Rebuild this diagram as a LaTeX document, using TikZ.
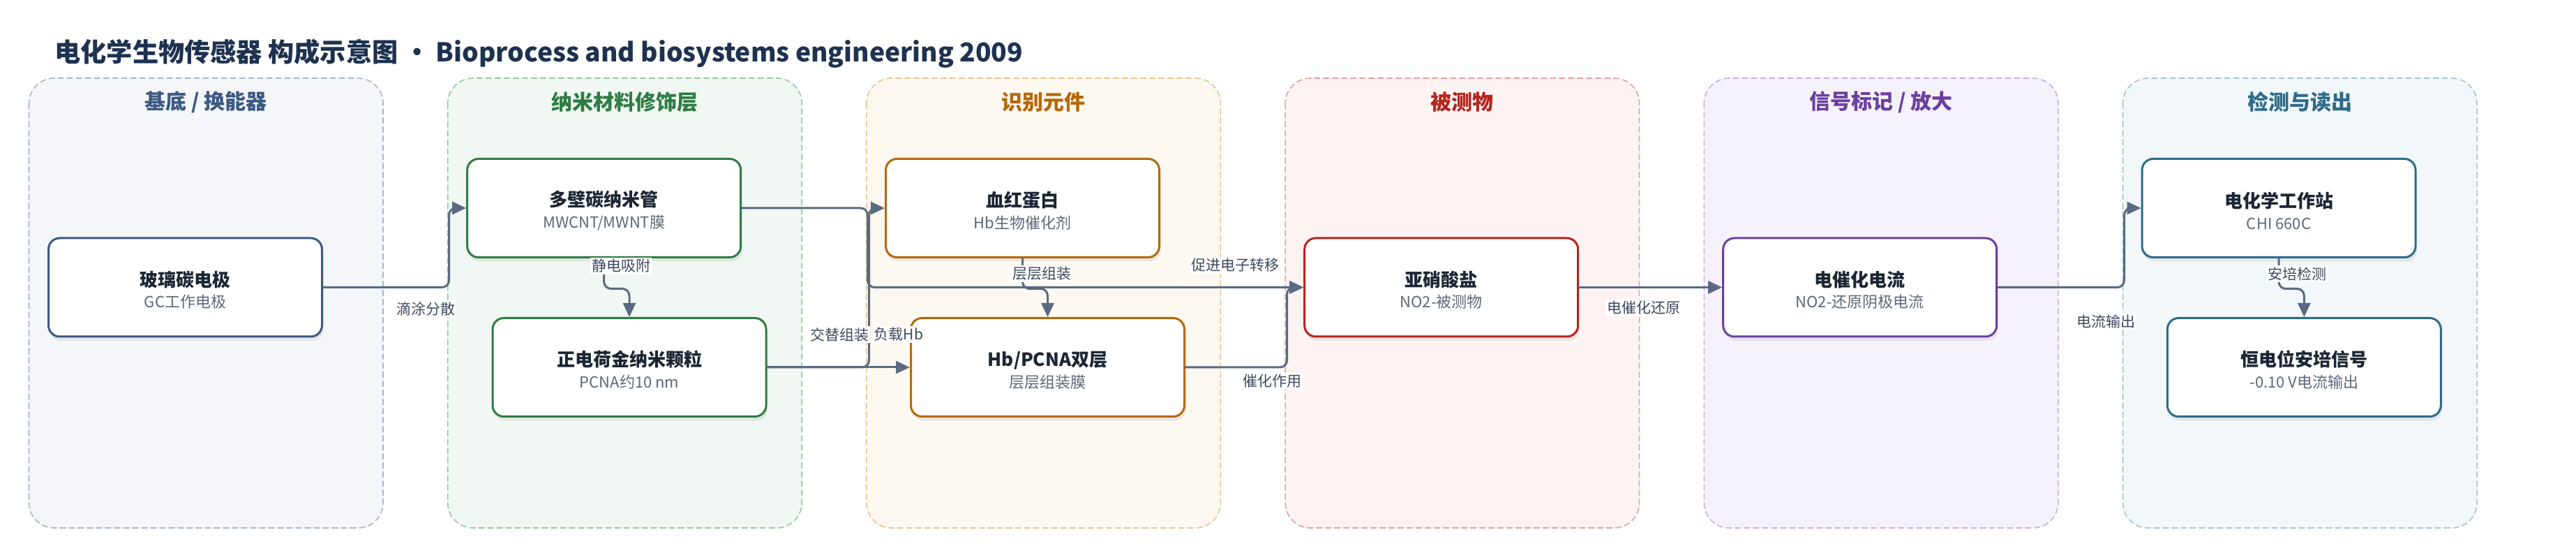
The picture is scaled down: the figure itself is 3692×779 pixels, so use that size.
\documentclass[tikz,border=0pt]{standalone}
\usepackage{fontspec}
\setmainfont{Noto Sans CJK SC}
\usetikzlibrary{arrows.meta,shadows}
\definecolor{titlec}{HTML}{1E3250}
\definecolor{edgec}{HTML}{5A6A82}
\definecolor{lblc}{HTML}{3D4A5C}
\definecolor{txtc}{HTML}{1C2633}
\definecolor{subc}{HTML}{5C6878}
% lane colours: line (L) / fill (F) / head
\definecolor{baseL}{HTML}{A9B5C9}\definecolor{baseF}{HTML}{F4F6FA}\definecolor{base}{HTML}{3C5A82}
\definecolor{nanoL}{HTML}{96C7A0}\definecolor{nanoF}{HTML}{F1F7F2}\definecolor{nano}{HTML}{2E7D44}
\definecolor{recogL}{HTML}{E5C48F}\definecolor{recogF}{HTML}{FDF8F0}\definecolor{recog}{HTML}{B5690A}
\definecolor{anaL}{HTML}{E3A0A0}\definecolor{anaF}{HTML}{FDF3F2}\definecolor{ana}{HTML}{B3261E}
\definecolor{sigL}{HTML}{C7ADE3}\definecolor{sigF}{HTML}{F6F2FB}\definecolor{sig}{HTML}{6B3FA0}
\definecolor{detL}{HTML}{A3C4D2}\definecolor{detF}{HTML}{F2F7F9}\definecolor{det}{HTML}{2E6B8A}
\newcommand{\blktitle}[1]{{\fontsize{13}{15}\selectfont\bfseries\color{txtc}\rule{0pt}{15pt}#1}}
\newcommand{\blksub}[1]{{\fontsize{11}{13}\selectfont\color{subc}#1}}
\begin{document}
\begin{tikzpicture}[x=0.5pt, y=-0.5pt, line join=round, line cap=round,
	lane/.style={dashed, dash pattern=on 4pt off 2.5pt, line width=0.8pt, rounded corners=18pt},
	lanehead/.style={font=\fontsize{15}{18}\selectfont\bfseries},
	blk/.style={draw, fill=white, rounded corners=8pt, line width=1.5pt, minimum width=196pt, minimum height=70.5pt, align=center,
		drop shadow={opacity=0.14, shadow xshift=1pt, shadow yshift=-3pt}},
	edge/.style={draw=edgec, line width=1.5pt, rounded corners=5pt, -{Triangle[length=10pt,width=9pt]}},
	lbl/.style={fill=white, inner sep=1pt, text=lblc, font=\fontsize{10.5}{12}\selectfont}]
	\def\lanew{507.5}\def\lanetop{112}\def\laneh{644}
	\fill[white] (0,0) rectangle (3692,779);
	\useasboundingbox (0,0) rectangle (3692,779);
	\node[anchor=west, inner sep=0pt, text=titlec, font=\fontsize{18.6}{22}\selectfont\bfseries] (title) at (78,77) {电化学生物传感器 构成示意图 • Bioprocess and biosystems engineering 2009};
	% lanes
	\foreach \i/\c/\t in {0/base/{基底 / 换能器}, 1/nano/{纳米材料修饰层}, 2/recog/{识别元件}, 3/ana/{被测物}, 4/sig/{信号标记 / 放大}, 5/det/{检测与读出}}{
		\draw[lane, draw=\c L, fill=\c F] (41.5+600.2*\i,\lanetop) rectangle ++(\lanew,\laneh);
		\node[lanehead, text=\c] (h\i) at (41.5+600.2*\i+\lanew/2,146.5) {\t};
	}
	% blocks
	\node[blk, draw=base] (gce) at (265.5,411.5) {\blktitle{玻璃碳电极}\\[3.3pt]\blksub{GC工作电极}};
	\node[blk, draw=nano] (mwcnt) at (865.7,298) {\blktitle{多壁碳纳米管}\\[3.3pt]\blksub{MWCNT/MWNT膜}};
	\node[blk, draw=nano] (pcna) at (902,526) {\blktitle{正电荷金纳米颗粒}\\[3.3pt]\blksub{PCNA约10 nm}};
	\node[blk, draw=recog] (hb) at (1465.5,298) {\blktitle{血红蛋白}\\[3.3pt]\blksub{Hb生物催化剂}};
	\node[blk, draw=recog] (bilayer) at (1501.5,526) {\blktitle{Hb/PCNA双层}\\[3.3pt]\blksub{层层组装膜}};
	\node[blk, draw=ana] (nitrite) at (2065.7,411.5) {\blktitle{亚硝酸盐}\\[3.3pt]\blksub{NO2-被测物}};
	\node[blk, draw=sig] (cur) at (2665.7,411.5) {\blktitle{电催化电流}\\[3.3pt]\blksub{NO2-还原阴极电流}};
	\node[blk, draw=det] (chi) at (3266,298) {\blktitle{电化学工作站}\\[3.3pt]\blksub{CHI 660C}};
	\node[blk, draw=det] (amp) at (3302.3,526) {\blktitle{恒电位安培信号}\\[3.3pt]\blksub{-0.10 V电流输出}};
	% connectors
	\draw[edge] (gce.east) -- ++(180.5,0) |- (mwcnt.west);
	\draw[edge] (mwcnt.south) -- ++(0,43.5) -| (pcna.north);
	\draw[edge] (mwcnt.east) -- ++(180.3,0) |- (nitrite.west);
	\draw[edge] (pcna.east) -- ++(146,0) |- (hb.west);
	\draw[edge] (pcna.east) -- (bilayer.west);
	\draw[edge] (hb.south) -- ++(0,43.5) -| (bilayer.north);
	\draw[edge] (bilayer.east) -- ++(145.5,0) |- (nitrite.west);
	\draw[edge] (nitrite.east) -- (cur.west);
	\draw[edge] (cur.east) -- ++(181.3,0) |- (chi.west);
	\draw[edge] (chi.south) -- ++(0,43.5) -| (amp.north);
	% labels
	\node[lbl] (l1) at (610,442) {滴涂分散};
	\node[lbl] (l2) at (890,381) {静电吸附};
	\node[lbl] (l3) at (1770,380) {促进电子转移};
	\node[lbl] (l4) at (1203,479) {交替组装};
	\node[lbl] (l5) at (1288,479) {负载Hb};
	\node[lbl] (l6) at (1493,392) {层层组装};
	\node[lbl] (l7) at (1823,546) {催化作用};
	\node[lbl] (l8) at (2356,441) {电催化还原};
	\node[lbl] (l9) at (3018,460) {电流输出};
	\node[lbl] (l10) at (3292,392) {安培检测};
\end{tikzpicture}
\end{document}
